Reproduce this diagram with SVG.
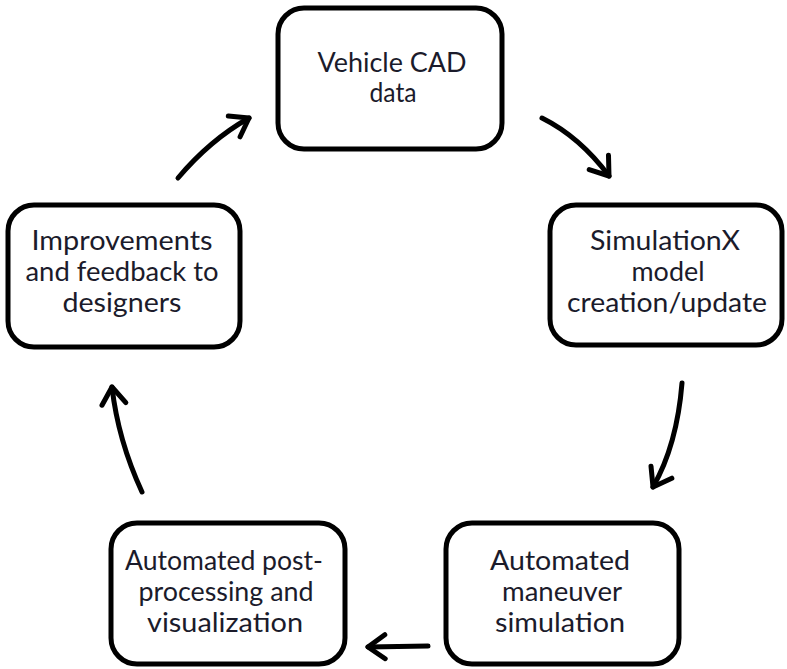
<svg xmlns="http://www.w3.org/2000/svg" width="787" height="669" viewBox="0 0 787 669">
<style>
.box{fill:#fff;stroke:#000;stroke-width:5}
.t{font-family:Lato,"Open Sans","Liberation Sans",sans-serif;font-size:26px;fill:#1b1b2b;text-anchor:middle}
.c{fill:none;stroke:#000;stroke-width:5;stroke-linecap:round;stroke-linejoin:round}
</style>
<defs>
<marker id="ah" markerUnits="userSpaceOnUse" markerWidth="40" markerHeight="40" viewBox="-25 -20 30 40" refX="0" refY="0" orient="auto">
<path d="M-17,-12 L0,0 L-17,12" fill="none" stroke="#000" stroke-width="5" stroke-linecap="round" stroke-linejoin="round"/>
</marker>
</defs>
<rect width="787" height="669" fill="#fff"/>
<g id="n1">
<rect class="box" x="278" y="8" width="224" height="141" rx="26"/>
<text class="t" x="392" y="72" textLength="149" lengthAdjust="spacingAndGlyphs">Vehicle CAD</text>
<text class="t" x="393" y="102" textLength="47" lengthAdjust="spacingAndGlyphs">data</text>
</g>
<g id="n2">
<rect class="box" x="550" y="205" width="232" height="140" rx="26"/>
<text class="t" x="665" y="250" textLength="150" lengthAdjust="spacingAndGlyphs">SimulationX</text>
<text class="t" x="668" y="281" textLength="73" lengthAdjust="spacingAndGlyphs">model</text>
<text class="t" x="667" y="312" textLength="200" lengthAdjust="spacingAndGlyphs">creation/update</text>
</g>
<g id="n3">
<rect class="box" x="446" y="523" width="233" height="141" rx="26"/>
<text class="t" x="560" y="570" textLength="140" lengthAdjust="spacingAndGlyphs">Automated</text>
<text class="t" x="562" y="601" textLength="120" lengthAdjust="spacingAndGlyphs">maneuver</text>
<text class="t" x="560" y="632" textLength="130" lengthAdjust="spacingAndGlyphs">simulation</text>
</g>
<g id="n4">
<rect class="box" x="111" y="523" width="234" height="141" rx="26"/>
<text class="t" x="224" y="570" textLength="198" lengthAdjust="spacingAndGlyphs">Automated post-</text>
<text class="t" x="226" y="601" textLength="175" lengthAdjust="spacingAndGlyphs">processing and</text>
<text class="t" x="225" y="632" textLength="156" lengthAdjust="spacingAndGlyphs">visualization</text>
</g>
<g id="n5">
<rect class="box" x="8" y="205" width="232" height="142" rx="26"/>
<text class="t" x="122" y="250" textLength="181" lengthAdjust="spacingAndGlyphs">Improvements</text>
<text class="t" x="122" y="281" textLength="193" lengthAdjust="spacingAndGlyphs">and feedback to</text>
<text class="t" x="122" y="312" textLength="119" lengthAdjust="spacingAndGlyphs">designers</text>
</g>
<g id="connectors">
<path class="c" marker-end="url(#ah)" d="M542,118 Q580,137 609,176"/>
<path class="c" marker-end="url(#ah)" d="M682,383 Q677,445 653,487"/>
<path class="c" marker-end="url(#ah)" d="M428,646 L368,647"/>
<path class="c" marker-end="url(#ah)" d="M142,492 Q118,440 112,387"/>
<path class="c" marker-end="url(#ah)" d="M178,178 Q210,140 249,118"/>
</g>
</svg>
